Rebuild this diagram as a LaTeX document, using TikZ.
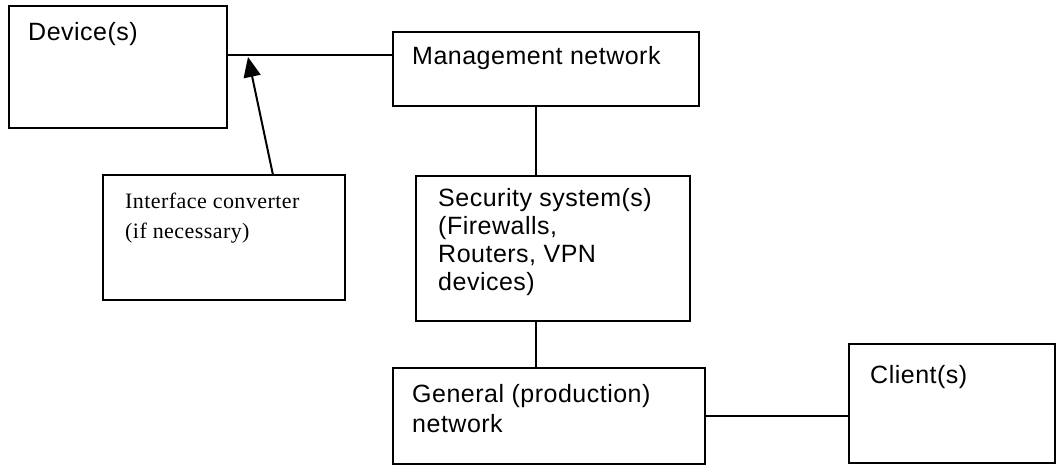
\documentclass[tikz,border=0pt]{standalone}
\usepackage{fontspec}
\setmainfont{Liberation Sans}[LetterSpace=2]
\newfontfamily\tnr{Liberation Serif}[LetterSpace=2]
\usetikzlibrary{arrows.meta}
\begin{document}
\begin{tikzpicture}[x=1pt,y=-1pt,
  box/.style={draw, line width=2pt, rectangle, anchor=north west, inner sep=0pt, outer sep=0pt},
  txt/.style={anchor=base west, inner sep=0pt, align=left, font=\fontsize{25}{28}\selectfont},
  gtxt/.style={anchor=base west, inner sep=0pt, align=left, font=\fontsize{25}{30}\selectfont},
  stxt/.style={anchor=base west, inner sep=0pt, align=left, font=\tnr\fontsize{22}{30}\selectfont},
  link/.style={line width=2pt},
  arr/.style={line width=2pt, -{Triangle[length=20pt,width=17pt]}}]
\useasboundingbox (0,0) rectangle (1057,465);
% boxes
\node[box, minimum width=218pt, minimum height=122pt] (dev) at (9,6) {};
\node[box, minimum width=306pt, minimum height=74pt] (mgmt) at (393,32) {};
\node[box, minimum width=242pt, minimum height=125pt] (conv) at (103,175) {};
\node[box, minimum width=274pt, minimum height=145pt] (sec) at (416,176) {};
\node[box, minimum width=312pt, minimum height=96pt] (gen) at (393,368) {};
\node[box, minimum width=206pt, minimum height=119pt] (cli) at (849,344) {};
% texts (anchored at the baseline of the last line)
\node[txt] (devt) at ([shift={(19,35)}]dev.north west) {Device(s)};
\node[txt] (mgmtt) at ([shift={(19,33)}]mgmt.north west) {Management network};
\node[stxt] (convt) at ([shift={(22,63)}]conv.north west) {Interface converter\\(if necessary)};
\node[txt] (sect) at ([shift={(22,114)}]sec.north west) {Security system(s)\\(Firewalls,\\Routers, VPN\\devices)};
\node[gtxt] (gent) at ([shift={(19,64)}]gen.north west) {General (production)\\network};
\node[txt] (clit) at ([shift={(21,39)}]cli.north west) {Client(s)};
% connectors
\coordinate (ly) at (0,55);
\coordinate (vx) at (536,0);
\coordinate (tip) at (248,57);
\coordinate (tail) at (273,0);
\draw[link] (dev.east |- ly) -- (mgmt.west |- ly);
\draw[link] (mgmt.south -| vx) -- (sec.north -| vx);
\draw[link] (sec.south -| vx) -- (gen.north -| vx);
\draw[link] (gen.east) -- (cli.west |- gen.east);
\draw[arr] (conv.north -| tail) -- (tip);
\end{tikzpicture}
\end{document}
